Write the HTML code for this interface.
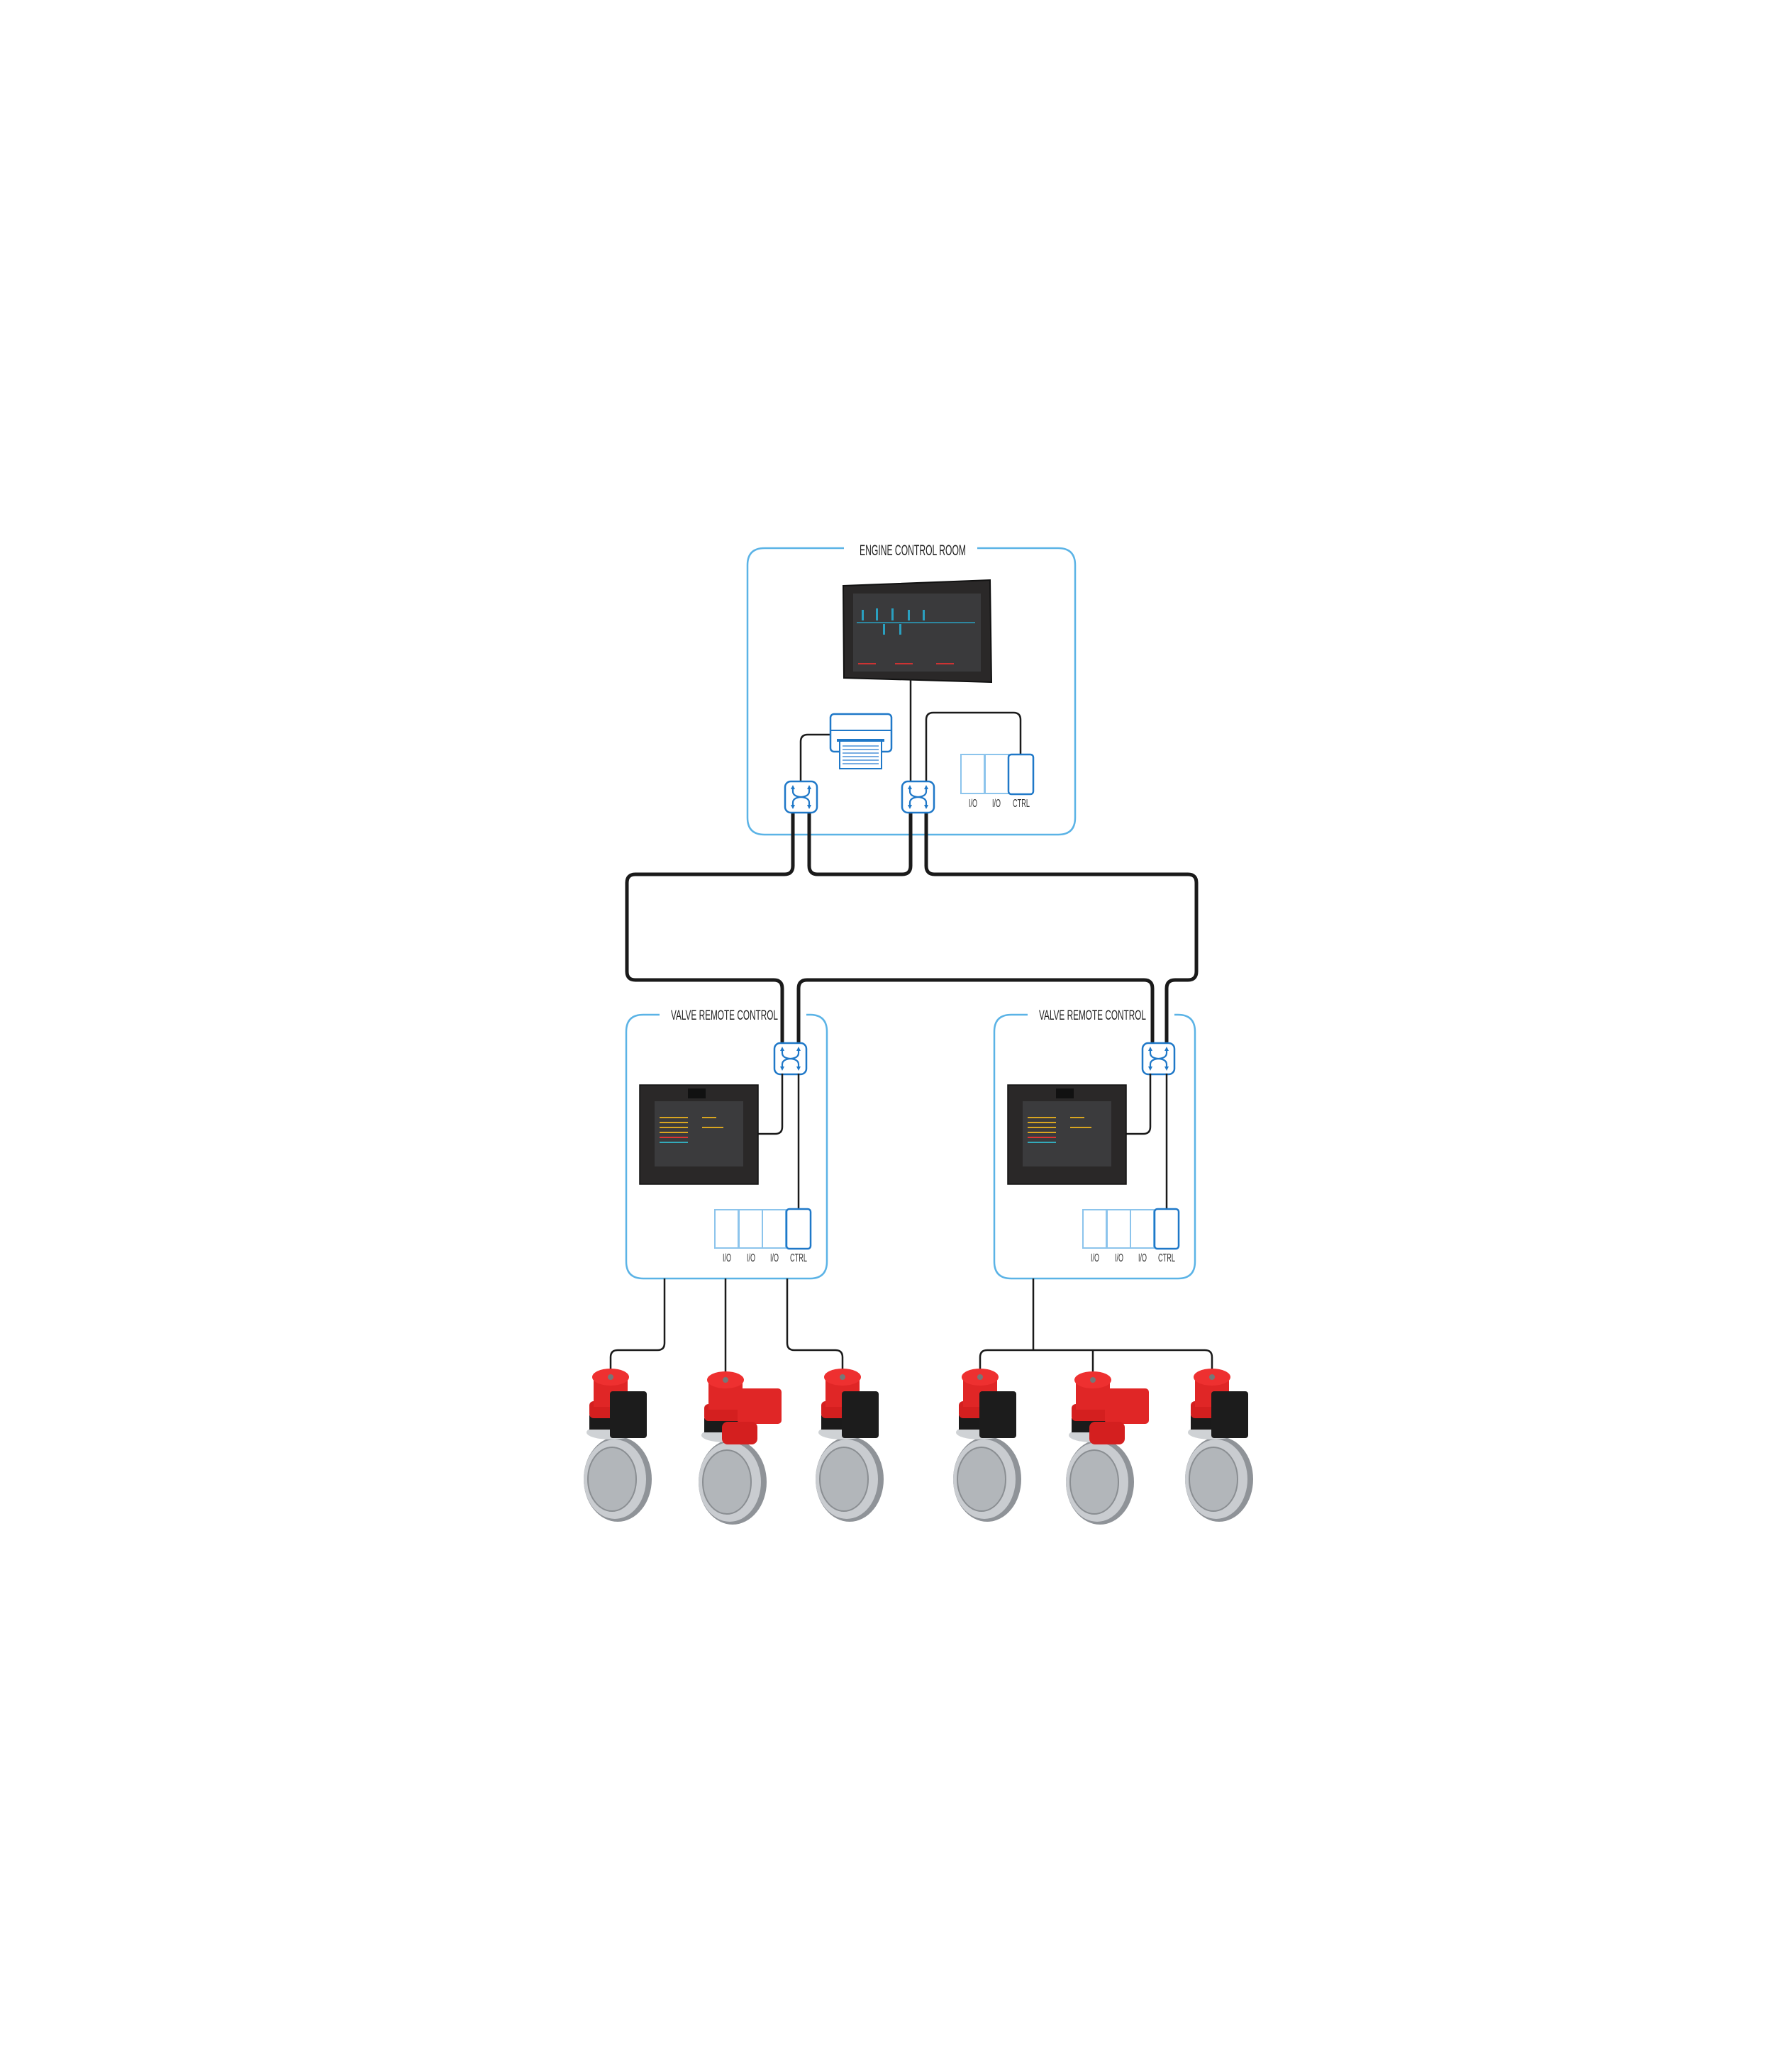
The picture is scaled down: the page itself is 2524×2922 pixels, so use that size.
<!DOCTYPE html>
<html><head><meta charset="utf-8"><style>html,body{margin:0;padding:0;background:#fff}svg{display:block}</style></head>
<body>
<svg width="2524" height="2922" viewBox="0 0 2524 2922" xmlns="http://www.w3.org/2000/svg" font-family="Liberation Sans, sans-serif">
<defs>
<g id="sw">
 <rect x="0" y="0" width="45" height="44" rx="8" fill="#fff" stroke="#1f78c8" stroke-width="2.5"/>
 <path d="M11 10 V14 Q11 21 22.5 22 Q11 23 11 30 V34 M34 10 V14 Q34 21 22.5 22 Q34 23 34 30 V34" fill="none" stroke="#1f78c8" stroke-width="2.2"/>
 <path d="M11 5 l-3 6 h6z M34 5 l-3 6 h6z M11 39 l-3 -6 h6z M34 39 l-3 -6 h6z" fill="#1f78c8"/>
</g>
<g id="valveA">
 <ellipse cx="10" cy="148" rx="48" ry="60" fill="#8f9398"/>
 <ellipse cx="6" cy="148" rx="44" ry="56" fill="#c9ccd0"/>
 <ellipse cx="2" cy="148" rx="34" ry="45" fill="#b2b6ba" stroke="#8a8e92" stroke-width="2"/>
 <ellipse cx="0" cy="82" rx="34" ry="10" fill="#cfd2d5"/>
 <rect x="-30" y="58" width="60" height="20" fill="#1b1b1b"/>
 <rect x="-30" y="38" width="56" height="24" rx="6" fill="#d41f1f"/>
 <rect x="-24" y="4" width="48" height="42" fill="#e02626"/>
 <ellipse cx="0" cy="4" rx="26" ry="12" fill="#ee3030"/>
 <circle cx="0" cy="4" r="4" fill="#777"/>
</g>
</defs>

<path d="M1190 773 H1078 Q1054 773 1054 797 V1153 Q1054 1177 1078 1177 H1492 Q1516 1177 1516 1153 V797 Q1516 773 1492 773 H1378" fill="none" stroke="#5bb3e6" stroke-width="2.5"/>
<text x="1212" y="783" font-size="21" textLength="150" lengthAdjust="spacingAndGlyphs" fill="#222">ENGINE CONTROL ROOM</text>

<polygon points="1189,826 1396,818 1398,962 1190,956" fill="#2a2828" stroke="#111" stroke-width="2"/>
<rect x="1203" y="837" width="180" height="110" fill="#3a3a3c"/>
<line x1="1208" y1="878" x2="1375" y2="878" stroke="#2aa0c0" stroke-width="1.5"/>
<g fill="#2aa0c0"><rect x="1215" y="860" width="3" height="15"/><rect x="1235" y="858" width="3" height="17"/><rect x="1257" y="858" width="3" height="17"/><rect x="1280" y="860" width="3" height="15"/><rect x="1301" y="860" width="3" height="15"/><rect x="1245" y="880" width="3" height="15"/><rect x="1268" y="880" width="3" height="15"/></g>
<g fill="#c33"><rect x="1210" y="935" width="25" height="2"/><rect x="1262" y="935" width="25" height="2"/><rect x="1320" y="935" width="25" height="2"/></g>

<g fill="none" stroke="#1a1a1a" stroke-width="2.5">
 <line x1="1284" y1="958" x2="1284" y2="1102"/>
 <path d="M1171 1036 H1139 Q1129 1036 1129 1046 V1102"/>
 <path d="M1306 1102 V1015 Q1306 1005 1316 1005 H1429 Q1439 1005 1439 1015 V1064"/>
</g>
<rect x="1171" y="1007" width="86" height="53" rx="5" fill="#fff" stroke="#1f78c8" stroke-width="2.5"/>
<line x1="1171" y1="1030" x2="1257" y2="1030" stroke="#1f78c8" stroke-width="2"/>
<rect x="1184" y="1044" width="59" height="40" fill="#fff" stroke="#1f78c8" stroke-width="2"/>
<rect x="1180" y="1042" width="67" height="4" fill="#1f78c8"/>
<g stroke="#4a90d8" stroke-width="1.5"><line x1="1188" y1="1052" x2="1239" y2="1052"/><line x1="1188" y1="1057" x2="1239" y2="1057"/><line x1="1188" y1="1062" x2="1239" y2="1062"/><line x1="1188" y1="1067" x2="1239" y2="1067"/><line x1="1188" y1="1072" x2="1239" y2="1072"/><line x1="1188" y1="1077" x2="1239" y2="1077"/></g>
<rect x="1355" y="1064" width="33" height="55" fill="#fff" stroke="#8cc4ec" stroke-width="2"/>
<rect x="1389" y="1064" width="33" height="55" fill="#fff" stroke="#8cc4ec" stroke-width="2"/>
<rect x="1422" y="1064" width="35" height="56" rx="4" fill="#fff" stroke="#1f78c8" stroke-width="2.5"/>
<g font-size="16" fill="#333"><text x="1366" y="1138" textLength="12" lengthAdjust="spacingAndGlyphs">I/O</text><text x="1399" y="1138" textLength="12" lengthAdjust="spacingAndGlyphs">I/O</text><text x="1428" y="1138" textLength="24" lengthAdjust="spacingAndGlyphs">CTRL</text></g>

<g fill="none" stroke="#5bb3e6" stroke-width="2.5">
 <path d="M930 1431 H907 Q883 1431 883 1455 V1779 Q883 1803 907 1803 H1142 Q1166 1803 1166 1779 V1455 Q1166 1431 1142 1431 H1137"/>
 <path d="M1449 1431 H1426 Q1402 1431 1402 1455 V1779 Q1402 1803 1426 1803 H1661 Q1685 1803 1685 1779 V1455 Q1685 1431 1661 1431 H1656"/>
</g>
<g font-size="19" fill="#222"><text x="946" y="1438" textLength="151" lengthAdjust="spacingAndGlyphs">VALVE REMOTE CONTROL</text><text x="1465" y="1438" textLength="151" lengthAdjust="spacingAndGlyphs">VALVE REMOTE CONTROL</text></g>

<g fill="none" stroke="#1a1a1a" stroke-width="5" stroke-linejoin="round">
 <path d="M1118 1146 V1221 Q1118 1233 1106 1233 H896 Q884 1233 884 1245 V1370 Q884 1382 896 1382 H1091 Q1103 1382 1103 1394 V1471"/>
 <path d="M1141 1146 V1221 Q1141 1233 1153 1233 H1272 Q1284 1233 1284 1221 V1146"/>
 <path d="M1306 1146 V1221 Q1306 1233 1318 1233 H1675 Q1687 1233 1687 1245 V1370 Q1687 1382 1675 1382 H1657 Q1645 1382 1645 1394 V1471"/>
 <path d="M1126 1471 V1394 Q1126 1382 1138 1382 H1613 Q1625 1382 1625 1394 V1471"/>
</g>
<use href="#sw" x="1107" y="1102"/>
<use href="#sw" x="1272" y="1102"/>
<use href="#sw" x="1092" y="1471"/>
<use href="#sw" x="1611" y="1471"/>

<g id="vrcL">
 <path d="M1103 1514 V1589 Q1103 1599 1093 1599 H1069" fill="none" stroke="#1a1a1a" stroke-width="2.5"/>
 <line x1="1126" y1="1514" x2="1126" y2="1706" stroke="#1a1a1a" stroke-width="2.5"/>
 <rect x="902" y="1530" width="167" height="140" fill="#2a2828" stroke="#111" stroke-width="1.5"/>
 <rect x="923" y="1553" width="125" height="92" fill="#3b3b3d"/>
 <rect x="970" y="1535" width="25" height="14" fill="#111"/>
 <g fill="#d9a520"><rect x="930" y="1575" width="40" height="2"/><rect x="930" y="1582" width="40" height="2"/><rect x="930" y="1589" width="40" height="2"/><rect x="930" y="1596" width="40" height="2"/><rect x="990" y="1575" width="20" height="2"/><rect x="990" y="1589" width="30" height="2"/></g>
 <rect x="930" y="1603" width="40" height="2" fill="#d33"/><rect x="930" y="1610" width="40" height="2" fill="#3ab"/>
 <rect x="1008" y="1706" width="33" height="54" fill="#fff" stroke="#8cc4ec" stroke-width="2"/>
 <rect x="1042" y="1706" width="33" height="54" fill="#fff" stroke="#8cc4ec" stroke-width="2"/>
 <rect x="1075" y="1706" width="33" height="54" fill="#fff" stroke="#8cc4ec" stroke-width="2"/>
 <rect x="1109" y="1705" width="34" height="56" rx="4" fill="#fff" stroke="#1f78c8" stroke-width="2.5"/>
 <g font-size="16" fill="#333"><text x="1019" y="1779" textLength="12" lengthAdjust="spacingAndGlyphs">I/O</text><text x="1053" y="1779" textLength="12" lengthAdjust="spacingAndGlyphs">I/O</text><text x="1086" y="1779" textLength="12" lengthAdjust="spacingAndGlyphs">I/O</text><text x="1114" y="1779" textLength="24" lengthAdjust="spacingAndGlyphs">CTRL</text></g>
</g>
<use href="#vrcL" x="519" y="0"/>

<g fill="none" stroke="#1a1a1a" stroke-width="2.5">
 <path d="M937 1803 V1894 Q937 1904 927 1904 H871 Q861 1904 861 1914 V1938"/>
 <line x1="1023" y1="1803" x2="1023" y2="1942"/>
 <path d="M1110 1803 V1894 Q1110 1904 1120 1904 H1178 Q1188 1904 1188 1914 V1938"/>
 <line x1="1457" y1="1803" x2="1457" y2="1904"/>
 <path d="M1382 1938 V1914 Q1382 1904 1392 1904 H1699 Q1709 1904 1709 1914 V1938"/>
 <line x1="1541" y1="1904" x2="1541" y2="1942"/>
</g>

<g>
 <use href="#valveA" x="861" y="1938"/><rect x="860" y="1962" width="52" height="66" rx="4" fill="#1c1c1c"/>
 <use href="#valveA" x="1023" y="1942"/><rect x="1040" y="1958" width="62" height="50" rx="5" fill="#e02626"/><rect x="1018" y="2005" width="50" height="32" rx="8" fill="#d41f1f"/>
 <use href="#valveA" x="1188" y="1938"/><rect x="1187" y="1962" width="52" height="66" rx="4" fill="#1c1c1c"/>
 <use href="#valveA" x="1382" y="1938"/><rect x="1381" y="1962" width="52" height="66" rx="4" fill="#1c1c1c"/>
 <use href="#valveA" x="1541" y="1942"/><rect x="1558" y="1958" width="62" height="50" rx="5" fill="#e02626"/><rect x="1536" y="2005" width="50" height="32" rx="8" fill="#d41f1f"/>
 <use href="#valveA" x="1709" y="1938"/><rect x="1708" y="1962" width="52" height="66" rx="4" fill="#1c1c1c"/>
</g>
</svg>
</body></html>
